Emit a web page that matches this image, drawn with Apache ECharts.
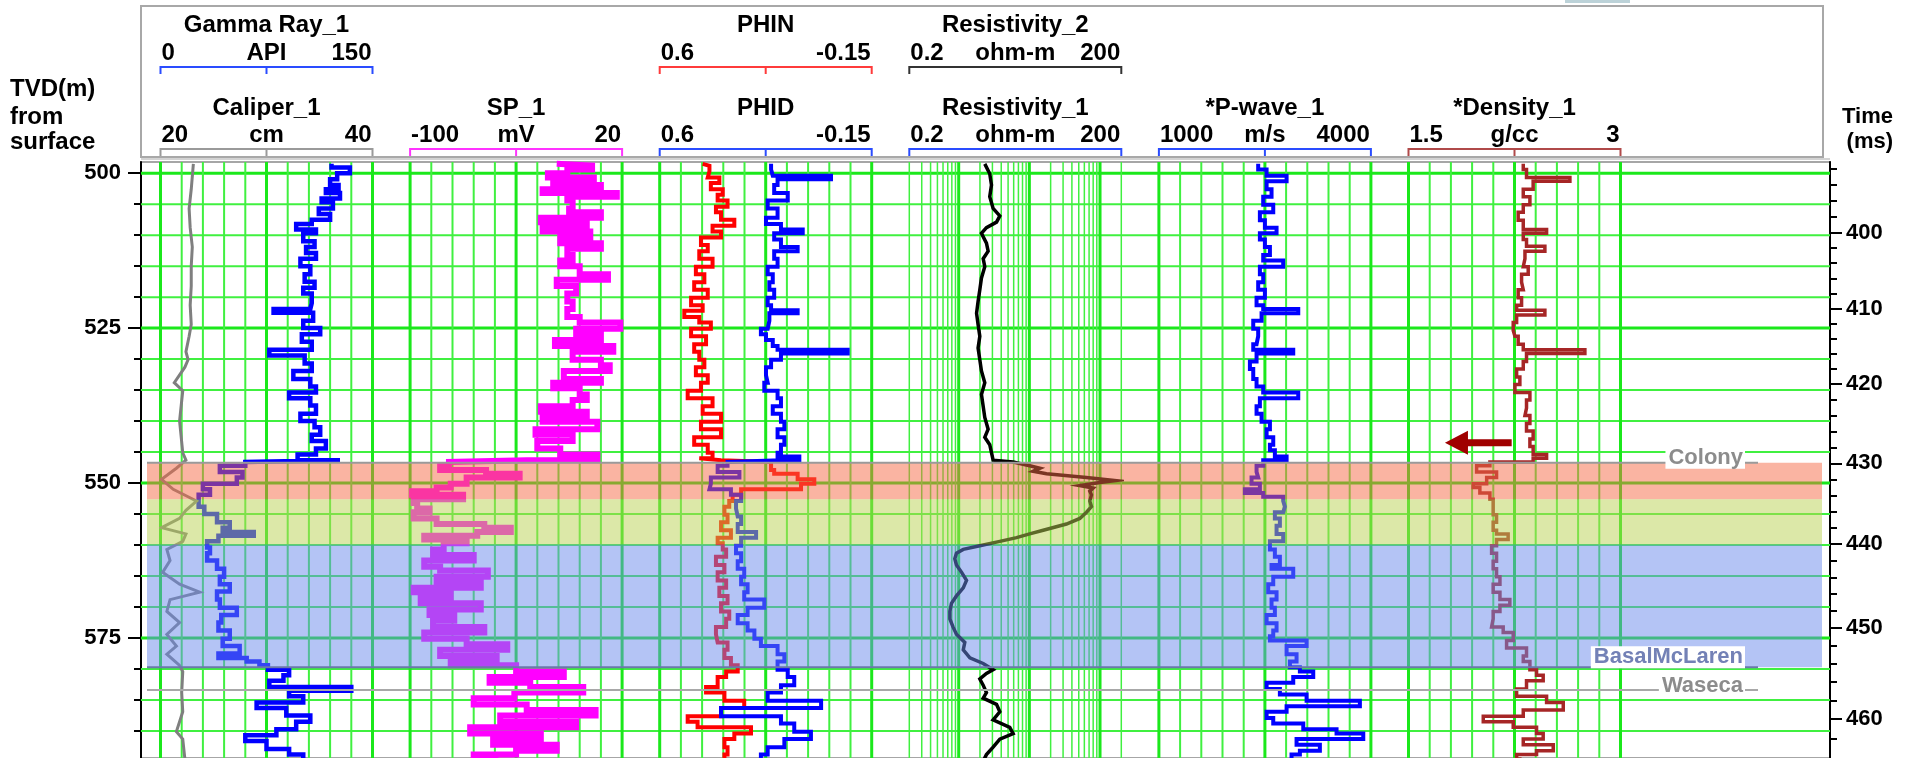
<!DOCTYPE html>
<html>
<head>
<meta charset="utf-8">
<title>Well log display</title>
<script src="https://cdn.jsdelivr.net/npm/echarts@6/dist/echarts.min.js"></script>
<style>
  html, body { margin: 0; padding: 0; background: #ffffff; }
  #chart { width: 1909px; height: 758px; }
</style>
</head>
<body>
<div id="chart"></div>
<script>
// ---------------- depth window (TVD, m) ----------------
const depthTop = 498.2;
const depthBottom = 594.35;
const depthMajorTicks = [500, 525, 550, 575];
const depthMinorTicks = [500, 505, 510, 515, 520, 525, 530, 535, 540, 545, 550, 555, 560, 565, 570, 575, 580, 585, 590];

// ---------------- checkshot: time (ms) vs depth (m) ----------------
const checkshotTime  = [392, 400, 410, 420, 430, 440, 450, 460, 462, 464];
const checkshotDepth = [499.3, 509.6, 521.9, 534.0, 546.8, 559.8, 573.3, 588.0, 591.3, 594.6];
const timeMajorTicks = [400, 410, 420, 430, 440, 450, 460];
const timeMinorStep = 2;

// ---------------- formation tops and zones ----------------
const topNames  = ['Colony', 'BasalMcLaren', 'Waseca'];
const topDepths = [546.7, 579.7, 583.4];
const zoneTops  = [546.7, 552.6, 559.9];
const zoneBases = [552.6, 559.9, 579.7];

// ---------------- curve headers ----------------
const curveTitles = ['Gamma Ray_1', 'Caliper_1', 'SP_1', 'PHIN', 'PHID', 'Resistivity_2', '*P-wave_1', '*Density_1'];
const curveUnits  = ['API', 'cm', 'mV', '', '', 'ohm-m', 'm/s', 'g/cc'];
const curveLeft   = [0, 20, -100, 0.6, 0.6, 0.2, 1000, 1.5];
const curveRight  = [150, 40, 20, -0.15, -0.15, 200, 4000, 3];
const curveTrack  = [0, 0, 1, 2, 2, 3, 4, 5];
const curveRow    = [0, 1, 1, 0, 1, 0, 1, 1];
const curveIsLog  = [false, false, false, false, false, true, false, false];
// Resistivity_1 shares track 4 with Resistivity_2 (header only, lower row)
const extraHeader = { title: 'Resistivity_1', unit: 'ohm-m', left: 0.2, right: 200, track: 3, row: 1, log: true };

// ---------------- log curves: [depth m, value] ----------------
const gammaRay = [
  [498.5,121],[499.1,134],[500.0,125],[501.0,120],[501.9,126],[502.6,117],[503.2,127],[504.1,114],[504.7,122],
  [505.7,112],[506.6,120],[507.5,107],[508.2,96],[509.1,110],[509.7,101],[511.0,109],[511.9,103],[512.9,110],
  [513.8,99],[515.0,106],[516.3,102],[517.5,109],[518.5,101],[519.4,107],[521.0,106],[521.9,80],[522.5,108],
  [523.8,101],[525.0,113],[526.0,100],[527.2,107],[528.5,77],[529.4,102],[530.7,107],[531.9,94],[533.2,106],
  [534.4,110],[535.4,91],[536.3,106],[537.5,110],[538.8,99],[540.0,109],[541.0,113],[542.2,107],[543.2,117],
  [544.4,110],[545.4,97],[546.3,127],[546.6,60],[547.2,42],[548.2,58],[549.1,54],[550.1,30],[551.0,35],
  [551.9,27],[552.9,27],[553.8,31],[555.0,40],[556.3,49],[557.2,44],[557.9,66],[558.5,41],[559.4,33],
  [560.4,35],[561.3,33],[562.5,40],[563.8,45],[565.1,42],[566.3,49],[567.5,40],[568.8,42],[570.1,54],
  [571.3,43],[572.5,41],[573.8,49],[575.1,44],[576.3,56],[577.5,41],[578.2,61],[578.8,70],[579.4,76],
  [580.1,91],[581.0,87],[581.9,77],[582.9,135],[583.5,91],[584.4,101],[585.4,68],[586.3,89],[587.5,106],
  [588.5,96],[589.7,82],[590.7,60],[591.6,75],[592.9,91],[593.8,101],[594.5,100]
];
const caliper = [
  [498.5,23.1],[502.6,22.9],[505.7,22.7],[508.8,22.8],[511.9,23.0],[515.0,22.9],[518.2,22.9],[521.3,22.8],
  [524.4,22.9],[526.3,22.7],[528.8,22.4],[530.1,22.6],[531.3,22.3],[533.8,21.3],[535.1,22.1],[540.0,21.8],
  [545.1,22.1],[546.3,22.4],[547.6,21.5],[549.4,20.1],[551.0,21.2],[552.2,22.6],[552.9,23.4],[554.4,22.4],
  [555.7,21.8],[557.2,20.1],[558.2,22.4],[559.4,22.1],[560.7,20.6],[562.5,20.9],[564.4,20.2],[566.3,21.8],
  [567.6,23.7],[568.8,20.9],[570.7,20.6],[572.5,21.8],[574.4,20.6],[576.3,21.5],[577.6,20.6],[579.4,21.8],
  [580.4,22.1],[583.8,22.0],[586.9,22.1],[590.1,21.5],[591.3,22.1],[594.5,22.3]
];
const spontaneousPotential = [
  [498.5,-17],[498.8,3],[499.4,-11],[500.0,-22],[500.7,4],[501.3,-19],[501.9,8],[502.6,-25],[503.2,17],
  [503.8,-11],[504.4,-8],[505.7,-10],[506.3,8],[507.2,-26],[507.9,0],[508.8,-25],[509.4,2],[510.4,-15],
  [511.3,8],[512.2,-11],[513.2,-8],[514.1,-15],[515.0,-4],[516.3,12],[517.2,-17],[518.2,-6],[519.4,-11],
  [520.7,-8],[521.9,-11],[523.2,-4],[524.1,19],[525.1,-6],[526.0,8],[526.9,-18],[527.9,15],[528.8,-8],
  [530.1,8],[531.0,13],[531.9,-13],[533.2,8],[533.8,-19],[534.7,-4],[535.7,0],[536.6,-8],[537.6,-26],
  [538.5,0],[539.4,-25],[540.1,6],[541.3,-29],[542.2,-8],[543.2,-28],[544.4,-15],[545.4,6],[546.3,-34],
  [546.6,-78],[547.2,-83],[547.9,-57],[548.5,-38],[549.1,-68],[550.1,-77],[550.7,-85],[551.3,-99],[551.9,-70],
  [552.6,-98],[553.2,-96],[554.1,-89],[554.7,-98],[555.7,-85],[556.6,-58],[557.2,-43],[557.9,-62],[558.5,-92],
  [559.1,-68],[559.7,-81],[560.7,-87],[561.6,-64],[562.5,-92],[563.5,-83],[564.1,-56],[565.1,-85],[566.0,-60],
  [566.9,-98],[567.6,-77],[568.5,-94],[569.4,-60],[570.4,-89],[571.3,-75],[572.2,-87],[573.2,-58],[574.1,-92],
  [575.1,-68],[576.0,-45],[576.9,-83],[577.9,-51],[578.8,-77],[579.4,-40],[580.4,-13],[581.3,-55],[582.2,-32],
  [582.9,-2],[583.8,-41],[584.7,-64],[585.7,-34],[586.6,5],[587.5,-49],[588.5,-6],[589.4,-66],[590.4,-26],
  [591.3,-53],[592.2,-17],[593.2,-40],[593.8,-64],[594.5,-50]
];
const neutronPorosity = [
  [498.5,0.448],[498.8,0.424],[499.7,0.430],[500.7,0.389],[501.6,0.419],[502.6,0.377],[503.5,0.395],[504.4,0.360],
  [505.4,0.401],[506.3,0.383],[507.5,0.336],[508.5,0.413],[509.4,0.383],[510.4,0.454],[511.6,0.430],[512.6,0.460],
  [513.8,0.413],[515.1,0.472],[516.3,0.442],[517.6,0.478],[518.8,0.430],[520.1,0.489],[521.3,0.448],[522.2,0.513],
  [523.2,0.460],[524.1,0.419],[525.1,0.489],[526.3,0.436],[527.6,0.478],[528.8,0.460],[530.1,0.442],[531.3,0.472],
  [532.6,0.430],[533.8,0.454],[535.1,0.501],[536.3,0.413],[537.6,0.448],[538.8,0.383],[540.1,0.454],[541.3,0.383],
  [542.6,0.478],[543.8,0.430],[545.1,0.413],[546.0,0.460],[546.3,0.383],[546.6,0.206],[547.2,0.206],[547.9,0.195],
  [548.5,0.112],[549.4,0.053],[550.1,0.100],[551.0,0.312],[551.9,0.342],[552.9,0.354],[553.8,0.371],[555.1,0.360],
  [556.3,0.383],[557.6,0.348],[558.8,0.395],[559.7,0.377],[560.7,0.365],[561.9,0.401],[563.2,0.371],[564.4,0.395],
  [565.7,0.365],[566.9,0.389],[568.2,0.360],[569.4,0.383],[570.7,0.354],[571.9,0.365],[573.2,0.401],[574.4,0.395],
  [575.7,0.360],[576.9,0.371],[578.2,0.348],[579.4,0.324],[580.4,0.365],[581.3,0.395],[582.9,0.436],[583.8,0.371],
  [585.1,0.301],[586.3,0.383],[587.6,0.501],[588.5,0.466],[589.4,0.277],[590.4,0.336],[591.3,0.371],[592.6,0.360],
  [593.8,0.371],[594.5,0.365]
];
const densityPorosity = [
  [498.5,0.206],[499.4,0.200],[500.4,-0.006],[501.0,0.183],[501.9,0.195],[503.2,0.147],[504.4,0.218],[505.7,0.183],
  [507.2,0.224],[508.2,0.171],[509.1,0.094],[509.7,0.195],[510.7,0.171],[511.9,0.112],[512.6,0.195],[513.8,0.183],
  [515.1,0.218],[516.3,0.200],[517.6,0.212],[518.8,0.195],[520.1,0.218],[521.3,0.206],[522.1,0.112],[522.6,0.212],
  [523.8,0.218],[525.1,0.242],[526.0,0.224],[526.9,0.200],[527.9,0.183],[528.5,-0.065],[529.1,0.171],[530.1,0.206],
  [531.3,0.224],[532.6,0.218],[533.8,0.230],[535.1,0.183],[536.3,0.171],[537.6,0.200],[538.8,0.171],[540.1,0.159],
  [541.3,0.183],[542.6,0.159],[543.8,0.171],[545.1,0.183],[545.7,0.106],[546.3,0.171],[546.6,0.360],[547.2,0.395],
  [548.2,0.318],[549.1,0.419],[550.1,0.424],[551.0,0.348],[551.9,0.312],[552.9,0.330],[554.1,0.324],[555.4,0.312],
  [556.6,0.324],[557.9,0.259],[558.8,0.312],[560.1,0.330],[561.3,0.312],[562.6,0.324],[563.8,0.301],[565.1,0.312],
  [566.3,0.289],[567.6,0.301],[568.8,0.230],[570.1,0.289],[571.3,0.324],[572.6,0.289],[573.8,0.265],[575.1,0.242],
  [576.3,0.183],[577.6,0.159],[578.8,0.183],[580.1,0.147],[581.3,0.124],[582.6,0.171],[583.8,0.218],[585.1,0.029],
  [586.3,0.383],[587.6,0.171],[588.8,0.124],[590.1,0.065],[591.3,0.159],[592.6,0.218],[593.8,0.242],[594.5,0.236]
];
const resistivity = [
  [498.5,2.34],[500.1,2.75],[501.9,2.91],[503.8,2.75],[505.7,3.07],[506.9,3.82],[507.9,3.43],[508.8,2.47],
  [509.7,2.10],[511.3,2.47],[512.6,2.61],[513.8,2.22],[515.1,2.34],[516.9,2.10],[518.8,1.99],[520.7,1.88],
  [522.6,1.79],[524.4,1.88],[526.3,1.99],[528.2,1.88],[530.1,1.99],[531.9,2.10],[533.8,2.34],[535.7,2.10],
  [537.6,2.22],[539.4,2.34],[541.3,2.61],[542.6,2.34],[543.8,2.75],[545.1,2.91],[546.3,3.07],[546.6,5.89],
  [547.2,10.1],[547.6,14.1],[548.1,11.3],[548.5,17.5],[549.1,64.3],[549.6,162],[549.9,99.3],[550.4,51.8],
  [550.8,79.8],[551.3,71.6],[551.9,75.7],[552.9,71.6],[553.8,75.7],[554.7,64.3],[555.7,51.8],[556.6,33.5],
  [557.6,15.7],[558.2,10.1],[558.8,6.58],[559.4,3.82],[560.1,1.99],[560.7,1.16],[561.3,0.93],[562.2,0.88],
  [563.2,0.93],[564.4,1.10],[565.7,1.29],[566.9,1.16],[568.2,0.93],[569.4,0.79],[570.7,0.75],[571.9,0.75],
  [573.2,0.83],[574.4,0.93],[575.7,1.22],[576.9,1.16],[578.2,1.44],[579.1,2.22],[580.1,3.07],[580.7,2.47],
  [581.6,1.99],[582.6,2.22],[583.8,2.47],[584.7,2.22],[585.7,3.43],[586.9,3.82],[588.2,3.07],[589.4,5.28],
  [590.4,5.89],[591.3,3.82],[592.6,3.07],[593.8,2.47],[594.5,2.30]
];
const pWave = [
  [498.5,2405],[499.4,2524],[500.4,2807],[501.3,2524],[502.6,2594],[503.8,2476],[505.1,2618],[506.3,2429],
  [507.6,2500],[508.8,2665],[509.7,2429],[510.7,2500],[511.9,2571],[513.2,2476],[514.1,2759],[515.1,2429],
  [516.3,2476],[517.6,2405],[518.8,2500],[520.1,2382],[521.3,2476],[521.9,2972],[522.6,2453],[523.8,2335],
  [525.1,2405],[526.3,2382],[527.6,2335],[528.5,2901],[529.1,2382],[530.4,2288],[531.6,2335],[533.2,2382],
  [534.4,2476],[535.4,2972],[536.3,2429],[537.6,2382],[538.8,2453],[540.1,2571],[541.3,2524],[542.6,2618],
  [543.8,2571],[544.7,2641],[545.7,2807],[546.3,2476],[547.2,2382],[548.2,2405],[549.1,2311],[550.1,2429],
  [551.0,2217],[551.6,2476],[552.2,2759],[552.9,2783],[553.8,2759],[554.7,2641],[555.7,2712],[556.9,2665],
  [558.2,2759],[559.4,2571],[560.7,2641],[561.9,2712],[563.2,2594],[563.8,2901],[565.1,2618],[566.3,2547],
  [567.6,2665],[568.8,2594],[570.1,2641],[571.3,2524],[572.6,2665],[573.8,2618],[574.7,2571],[575.4,3090],
  [576.3,2807],[577.6,2948],[578.8,2854],[579.7,2995],[580.4,3184],[581.3,2901],[582.2,2524],[583.2,2712],
  [584.1,3090],[585.1,3844],[586.0,2807],[586.9,2524],[587.9,2618],[588.8,3043],[589.7,3514],[590.4,3892],
  [591.3,2948],[592.2,3278],[593.2,2995],[593.8,2877],[594.5,2900]
];
const bulkDensity = [
  [498.5,2.312],[499.4,2.335],[500.7,2.642],[501.3,2.382],[502.6,2.312],[503.8,2.359],[505.1,2.312],[506.3,2.276],
  [507.6,2.312],[509.1,2.477],[509.7,2.312],[510.7,2.335],[511.8,2.465],[512.6,2.324],[513.8,2.312],[515.1,2.347],
  [516.3,2.300],[517.6,2.312],[518.8,2.276],[520.1,2.300],[521.3,2.265],[522.1,2.465],[522.9,2.265],[524.1,2.241],
  [525.4,2.253],[526.3,2.276],[527.6,2.312],[528.5,2.748],[529.1,2.335],[530.4,2.312],[531.6,2.265],[532.9,2.288],
  [534.1,2.253],[535.4,2.359],[536.6,2.335],[537.9,2.324],[539.1,2.359],[540.4,2.335],[541.6,2.382],[542.9,2.359],
  [544.1,2.382],[545.4,2.477],[546.0,2.382],[546.6,2.076],[547.2,1.982],[548.2,2.123],[549.1,2.053],[550.1,1.958],
  [550.7,2.005],[551.6,2.076],[552.6,2.099],[553.8,2.099],[555.1,2.123],[556.3,2.099],[557.6,2.123],[558.2,2.205],
  [559.1,2.123],[560.1,2.088],[561.3,2.123],[562.6,2.099],[563.8,2.123],[565.1,2.147],[566.3,2.099],[567.6,2.147],
  [568.8,2.217],[569.7,2.147],[570.7,2.099],[571.9,2.088],[573.2,2.170],[574.1,2.241],[575.4,2.194],[576.6,2.335],
  [577.9,2.312],[578.8,2.359],[580.1,2.406],[581.0,2.453],[581.9,2.335],[583.2,2.265],[584.4,2.477],[585.4,2.595],
  [586.6,2.312],[587.6,2.029],[588.5,2.241],[589.4,2.406],[590.4,2.453],[591.3,2.312],[592.2,2.524],[593.2,2.406],
  [593.8,2.265],[594.5,2.300]
];
const curveData = [gammaRay, caliper, spontaneousPotential, neutronPorosity, densityPorosity, resistivity, pWave, bulkDensity];

// density-track annotation arrow: [depth, tail value, tip value]
const arrowMark = [543.5, 2.23, 1.758];

// ---------------- styles / layout ----------------
const FONT = '"Liberation Sans", Arial, Helvetica, sans-serif';
const curveColors   = ['#0000ff', '#7f7f7f', '#ff00ff', '#ff0000', '#0000ff', '#000000', '#0000ff', '#a62626'];
const bracketColors = ['#2a4cff', '#9a9a9a', '#ff33ff', '#ff3b3b', '#2a4cff', '#333333', '#2a4cff', '#b04a4a'];
const curveWidths   = [4.5, 3, 6, 4, 4, 3.5, 4, 3.5];
const curveStep     = ['start', false, 'start', 'start', 'start', false, 'start', 'start'];
const zoneColors = ['rgba(245,105,70,0.5)', 'rgba(185,209,81,0.5)', 'rgba(105,137,235,0.5)'];
const topLineColors = ['#9a9a9a', '#6a78aa', '#a8a8a8'];
const topTextColors = ['#8c8c8c', '#7381b6', '#8c8c8c'];
const topTextShift  = [6, 1, 7];
const GRID_MAJOR = '#1be81b';
const GRID_MINOR = '#40f040';

const PLOT_LEFT = 141, PLOT_RIGHT = 1830, PLOT_TOP = 162;
const TRACK0 = 160.5, TRACK_STEP = 249.6, TRACK_W = 212, TRACK_COUNT = 6;
const headerRows = [{ title: 25, scale: 53, bracket: 67 }, { title: 108, scale: 135, bracket: 149 }];
const HEADER_FONT = 'bold 24px ' + FONT;

function depthAtTime(t) {
  for (let i = 0; i < checkshotTime.length - 1; i++) {
    const t0 = checkshotTime[i], t1 = checkshotTime[i + 1];
    if (t >= t0 && t <= t1) {
      const f = (t - t0) / (t1 - t0);
      return checkshotDepth[i] + f * (checkshotDepth[i + 1] - checkshotDepth[i]);
    }
  }
  return NaN;
}
function timeAtDepth(d) {
  for (let i = 0; i < checkshotDepth.length - 1; i++) {
    const d0 = checkshotDepth[i], d1 = checkshotDepth[i + 1];
    if (d >= d0 && d <= d1) {
      const f = (d - d0) / (d1 - d0);
      return checkshotTime[i] + f * (checkshotTime[i + 1] - checkshotTime[i]);
    }
  }
  return NaN;
}
const timeMajorDepths = timeMajorTicks.map(depthAtTime);
const timeMinorDepths = [];
for (let t = checkshotTime[0]; t <= checkshotTime[checkshotTime.length - 1]; t += timeMinorStep) {
  const d = depthAtTime(t);
  if (d >= depthTop && d <= depthBottom) timeMinorDepths.push(d);
}

// ---------------- grids & axes ----------------
const grids = [{ left: PLOT_LEFT, width: PLOT_RIGHT - PLOT_LEFT, top: PLOT_TOP, bottom: 0,
                 show: true, borderColor: '#a6a6a6', borderWidth: 2, backgroundColor: '#ffffff' }];
for (let t = 0; t < TRACK_COUNT; t++) {
  grids.push({ left: TRACK0 + t * TRACK_STEP, width: TRACK_W, top: PLOT_TOP, bottom: 0 });
}

const xAxes = [{ type: 'value', gridIndex: 0, min: 0, max: 1, show: false }];
curveTitles.forEach((_, k) => {
  const lo = Math.min(curveLeft[k], curveRight[k]);
  const hi = Math.max(curveLeft[k], curveRight[k]);
  xAxes.push({
    type: curveIsLog[k] ? 'log' : 'value', logBase: 10,
    gridIndex: curveTrack[k] + 1, min: lo, max: hi,
    inverse: curveLeft[k] > curveRight[k], show: false
  });
});

const depthBase = { type: 'value', gridIndex: 0, min: depthTop, max: depthBottom, inverse: true, splitLine: { show: false } };
const labelStyle = { color: '#000', fontSize: 22, fontWeight: 'bold', fontFamily: FONT };
const yAxes = [
  Object.assign({}, depthBase, {
    position: 'left',
    axisLine: { show: true, lineStyle: { color: '#000', width: 2 } },
    axisTick: { show: true, customValues: depthMajorTicks, length: 13, lineStyle: { color: '#000', width: 2 } },
    axisLabel: Object.assign({ show: true, customValues: depthMajorTicks, margin: 20 }, labelStyle)
  }),
  Object.assign({}, depthBase, {
    position: 'left',
    axisLine: { show: false },
    axisTick: { show: true, customValues: depthMinorTicks, length: 7, lineStyle: { color: '#000', width: 2 } },
    axisLabel: { show: false }
  }),
  Object.assign({}, depthBase, {
    position: 'right',
    axisLine: { show: true, lineStyle: { color: '#000', width: 2 } },
    axisTick: { show: true, customValues: timeMajorDepths, length: 12, lineStyle: { color: '#000', width: 2 } },
    axisLabel: Object.assign({ show: true, customValues: timeMajorDepths, margin: 16,
      formatter: v => String(Math.round(timeAtDepth(v))) }, labelStyle)
  }),
  Object.assign({}, depthBase, {
    position: 'right',
    axisLine: { show: false },
    axisTick: { show: true, customValues: timeMinorDepths, length: 7, lineStyle: { color: '#000', width: 2 } },
    axisLabel: { show: false }
  })
];
const TRACK_Y0 = yAxes.length;
for (let t = 0; t < TRACK_COUNT; t++) {
  yAxes.push({ type: 'value', gridIndex: t + 1, min: depthTop, max: depthBottom, inverse: true, show: false });
}

// ---------------- series ----------------
const series = [];

// horizontal depth grid across the whole plot
series.push({
  type: 'custom', xAxisIndex: 0, yAxisIndex: 0, z: 1, silent: true, clip: false,
  data: depthMinorTicks.map(d => [0, d]),
  renderItem(params, api) {
    const cs = params.coordSys;
    const d = api.value(1);
    const y = api.coord([0, d])[1];
    const major = depthMajorTicks.indexOf(d) >= 0;
    return { type: 'line', shape: { x1: cs.x, y1: y, x2: cs.x + cs.width, y2: y },
             style: { stroke: major ? GRID_MAJOR : GRID_MINOR, lineWidth: major ? 3 : 2 } };
  }
});

// vertical scale grid in each track, built from the track's first curve axis
const logLines = [0.2,0.3,0.4,0.5,0.6,0.7,0.8,0.9,1,2,3,4,5,6,7,8,9,10,20,30,40,50,60,70,80,90,100,200];
for (let t = 0; t < TRACK_COUNT; t++) {
  const k = curveTrack.indexOf(t);
  const isLog = curveIsLog[k];
  const lines = [];
  if (isLog) {
    logLines.forEach(v => lines.push([v, depthTop, [1, 10, 100].indexOf(v) >= 0 ? 1 : 0]));
  } else {
    for (let i = 0; i <= 10; i++) {
      lines.push([curveLeft[k] + i * (curveRight[k] - curveLeft[k]) / 10, depthTop, i % 5 === 0 ? 1 : 0]);
    }
  }
  series.push({
    type: 'custom', xAxisIndex: k + 1, yAxisIndex: TRACK_Y0 + t, z: 1, silent: true, clip: false,
    data: lines,
    renderItem(params, api) {
      const cs = params.coordSys;
      const x = api.coord([api.value(0), api.value(1)])[0];
      const major = api.value(2) === 1;
      return { type: 'line', shape: { x1: x, y1: cs.y, x2: x, y2: cs.y + cs.height },
               style: { stroke: major ? GRID_MAJOR : GRID_MINOR, lineWidth: major ? 3 : (isLog ? 1.5 : 2) } };
    }
  });
}

// the curves
curveTitles.forEach((name, k) => {
  series.push({
    name: name, type: 'line', xAxisIndex: k + 1, yAxisIndex: TRACK_Y0 + curveTrack[k],
    data: curveData[k].map(p => [p[1], p[0]]),
    showSymbol: false, symbol: 'none', step: curveStep[k], smooth: false,
    lineStyle: { color: curveColors[k], width: curveWidths[k], join: 'miter' },
    z: 3, silent: true
  });
});

// formation zones, drawn translucently over the curves
series.push({
  type: 'custom', xAxisIndex: 0, yAxisIndex: 0, z: 4, silent: true, clip: false,
  data: zoneTops.map((d, i) => [0, d, zoneBases[i], i]),
  renderItem(params, api) {
    const cs = params.coordSys;
    const y1 = api.coord([0, api.value(1)])[1];
    const y2 = api.coord([0, api.value(2)])[1];
    return { type: 'rect', shape: { x: cs.x + 6, y: y1, width: cs.width - 14, height: y2 - y1 },
             style: { fill: zoneColors[api.value(3)] } };
  }
});

// formation tops with their names
series.push({
  type: 'custom', xAxisIndex: 0, yAxisIndex: 0, z: 5, silent: true, clip: false,
  data: topDepths.map((d, i) => [0, d, i]),
  renderItem(params, api) {
    const cs = params.coordSys;
    const i = api.value(2);
    const y = api.coord([0, api.value(1)])[1];
    const xEnd = cs.x + cs.width - 72;
    return {
      type: 'group',
      children: [
        { type: 'line', shape: { x1: cs.x + 6, y1: y, x2: xEnd, y2: y },
          style: { stroke: topLineColors[i], lineWidth: 2 } },
        { type: 'text', x: xEnd - 13, y: y + topTextShift[i],
          style: { text: topNames[i], fill: topTextColors[i], font: 'bold 22px ' + FONT,
                   textAlign: 'right', textVerticalAlign: 'bottom',
                   backgroundColor: '#ffffff', padding: [0, 2, 0, 3] } }
      ]
    };
  }
});

// annotation arrow in the density track
series.push({
  type: 'custom', xAxisIndex: curveTitles.length, yAxisIndex: TRACK_Y0 + 5, z: 6, silent: true, clip: false,
  data: [[arrowMark[1], arrowMark[0], arrowMark[2]]],
  renderItem(params, api) {
    const tail = api.coord([api.value(0), api.value(1)]);
    const tip = api.coord([api.value(2), api.value(1)]);
    const head = 23, half = 12, shaft = 3.5;
    const xh = tip[0] + head, y = tail[1];
    return {
      type: 'polygon',
      shape: { points: [[tail[0], y - shaft], [xh, y - shaft], [xh, y - half], [tip[0], y],
                        [xh, y + half], [xh, y + shaft], [tail[0], y + shaft]] },
      style: { fill: '#a00000' }
    };
  }
});

// ---------------- header panel ----------------
const graphics = [];
graphics.push({ type: 'rect', shape: { x: PLOT_LEFT, y: 6, width: 1823 - PLOT_LEFT, height: 151 },
                style: { fill: 'none', stroke: '#a8a8a8', lineWidth: 2 }, z: 1 });
graphics.push({ type: 'line', shape: { x1: PLOT_LEFT, y1: 159, x2: PLOT_RIGHT, y2: 159 },
                style: { stroke: '#c4c4c4', lineWidth: 1.5 } });
graphics.push({ type: 'rect', shape: { x: 1565, y: -8, width: 65, height: 11 }, style: { fill: '#bcd2d8' } });

function headerFor(title, unit, left, right, track, row, isLog, bracketColor) {
  const x0 = TRACK0 + track * TRACK_STEP, x1 = x0 + TRACK_W, xm = (x0 + x1) / 2;
  const r = headerRows[row];
  graphics.push({ type: 'text', x: xm, y: r.title,
    style: { text: title, font: HEADER_FONT, fill: '#000', textAlign: 'center', textVerticalAlign: 'middle' } });
  graphics.push({ type: 'text', x: x0 + 1, y: r.scale,
    style: { text: String(left), font: HEADER_FONT, fill: '#000', textAlign: 'left', textVerticalAlign: 'middle' } });
  if (unit) {
    graphics.push({ type: 'text', x: xm, y: r.scale,
      style: { text: unit, font: HEADER_FONT, fill: '#000', textAlign: 'center', textVerticalAlign: 'middle' } });
  }
  graphics.push({ type: 'text', x: x1 - 1, y: r.scale,
    style: { text: String(right), font: HEADER_FONT, fill: '#000', textAlign: 'right', textVerticalAlign: 'middle' } });
  const yb = r.bracket;
  graphics.push({ type: 'polyline', shape: { points: [[x0, yb + 7], [x0, yb], [x1, yb], [x1, yb + 7]] },
                  style: { stroke: bracketColor, lineWidth: 2, fill: null } });
  if (!isLog) {
    graphics.push({ type: 'line', shape: { x1: xm, y1: yb, x2: xm, y2: yb + 7 },
                    style: { stroke: bracketColor, lineWidth: 2 } });
  }
}
curveTitles.forEach((title, k) => {
  headerFor(title, curveUnits[k], curveLeft[k], curveRight[k], curveTrack[k], curveRow[k], curveIsLog[k], bracketColors[k]);
});
headerFor(extraHeader.title, extraHeader.unit, extraHeader.left, extraHeader.right,
          extraHeader.track, extraHeader.row, extraHeader.log, '#2a4cff');

[['TVD(m)', 89], ['from', 117], ['surface', 142]].forEach(([txt, y]) => {
  graphics.push({ type: 'text', x: 10, y: y,
    style: { text: txt, font: HEADER_FONT, fill: '#000', textAlign: 'left', textVerticalAlign: 'middle' } });
});
[['Time', 117], ['(ms)', 142]].forEach(([txt, y]) => {
  graphics.push({ type: 'text', x: 1893, y: y,
    style: { text: txt, font: 'bold 22px ' + FONT, fill: '#000', textAlign: 'right', textVerticalAlign: 'middle' } });
});

const chart = echarts.init(document.getElementById('chart'), null, { renderer: 'canvas', width: 1909, height: 758 });
chart.setOption({
  animation: false,
  backgroundColor: '#ffffff',
  grid: grids,
  xAxis: xAxes,
  yAxis: yAxes,
  series: series,
  graphic: { elements: graphics }
});
</script>
</body>
</html>
